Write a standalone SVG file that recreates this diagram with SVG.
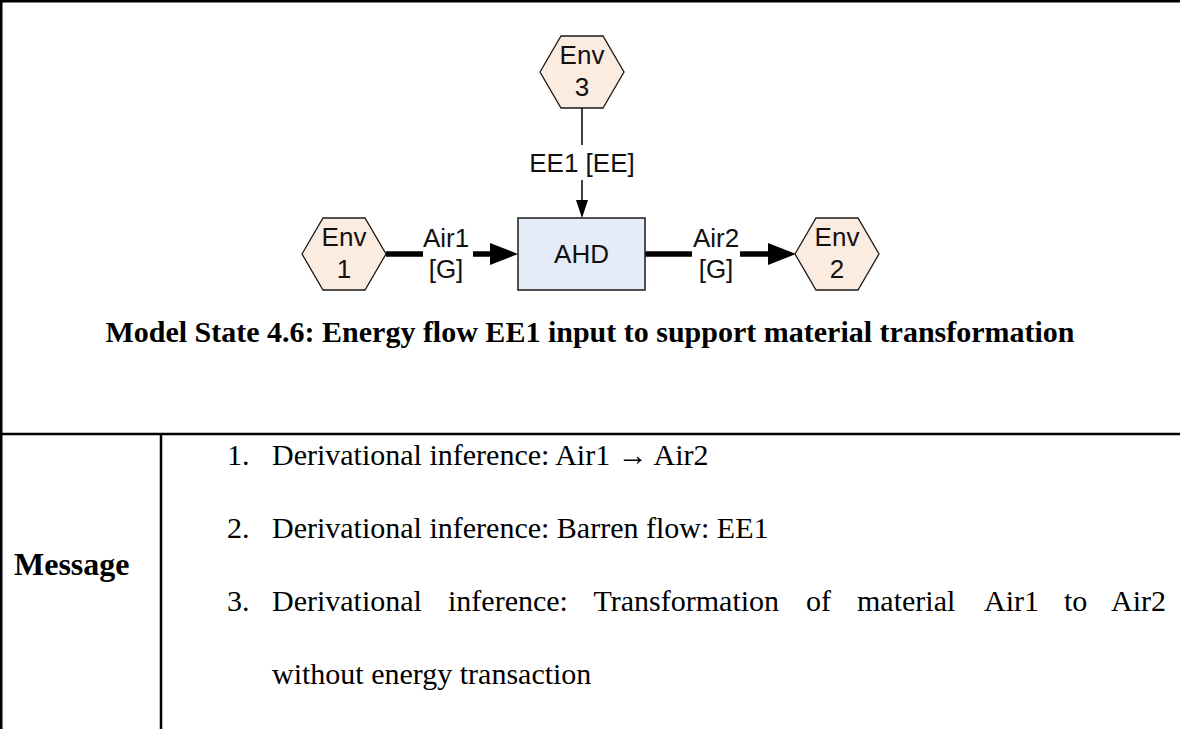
<svg xmlns="http://www.w3.org/2000/svg" width="1180" height="729" viewBox="0 0 1180 729">
<defs>
<style>
.env{fill:#fcebdf;stroke:#1a1a1a;stroke-width:1.3}
.fn{fill:#e6ecf7;stroke:#1a1a1a;stroke-width:1.5}
.lbl{font-family:"Liberation Sans",Arial,sans-serif;font-size:26px;fill:#111;text-anchor:middle}
.thick{stroke:#000;stroke-width:5.5;fill:none}
.thin{stroke:#000;stroke-width:1.5;fill:none}
.cap{font-family:"Liberation Serif","Times New Roman",serif;font-weight:bold;font-size:30px;fill:#000;text-anchor:middle}
.tb{font-family:"Liberation Serif","Times New Roman",serif;font-size:30px;fill:#000}
.tbb{font-family:"Liberation Serif","Times New Roman",serif;font-size:32px;font-weight:bold;fill:#000}
.rule{stroke:#000;stroke-width:2.5}
</style>
</defs>
<rect width="1180" height="729" fill="#fff"/>
<g id="table">
<line class="rule" x1="0" y1="1.25" x2="1180" y2="1.25"/>
<line class="rule" x1="1.25" y1="0" x2="1.25" y2="729"/>
<line class="rule" x1="0" y1="434" x2="1180" y2="434"/>
<line class="rule" x1="161" y1="434" x2="161" y2="729"/>
</g>
<g id="connectors">
<line class="thick" x1="386" y1="254" x2="423" y2="254"/>
<line class="thick" x1="473" y1="254" x2="492" y2="254"/>
<polygon points="490,243 518,254 490,265" fill="#000"/>
<text class="lbl" x="446" y="247">Air1</text>
<text class="lbl" x="446" y="278">[G]</text>
<line class="thick" x1="645" y1="254" x2="692" y2="254"/>
<line class="thick" x1="740" y1="254" x2="770" y2="254"/>
<polygon points="768,243 796,254 768,265" fill="#000"/>
<text class="lbl" x="716" y="247">Air2</text>
<text class="lbl" x="716" y="278">[G]</text>
<line class="thin" x1="582" y1="108" x2="582" y2="145"/>
<line class="thin" x1="582" y1="180" x2="582" y2="203"/>
<polygon points="576,200 582,218 588,200" fill="#000"/>
<text class="lbl" x="582" y="172">EE1 [EE]</text>
</g>
<g id="env3">
<polygon class="env" points="540,72 561,36 603,36 624,72 603,108 561,108"/>
<text class="lbl" x="582" y="64">Env</text>
<text class="lbl" x="582" y="96">3</text>
</g>
<g id="env1">
<polygon class="env" points="302,254 323,218 365,218 386,254 365,290 323,290"/>
<text class="lbl" x="344" y="246">Env</text>
<text class="lbl" x="344" y="278">1</text>
</g>
<g id="env2">
<polygon class="env" points="795,254 816,218 858,218 879,254 858,290 816,290"/>
<text class="lbl" x="837" y="246">Env</text>
<text class="lbl" x="837" y="278">2</text>
</g>
<g id="ahd">
<rect class="fn" x="518" y="218" width="127" height="72"/>
<text class="lbl" x="581.5" y="263">AHD</text>
</g>
<text class="cap" x="590" y="342">Model State 4.6: Energy flow EE1 input to support material transformation</text>
<text class="tbb" x="14" y="575">Message</text>
<text class="tb" x="227" y="465">1.</text>
<text class="tb" x="272" y="465">Derivational inference: Air1 → Air2</text>
<text class="tb" x="227" y="538">2.</text>
<text class="tb" x="272" y="538">Derivational inference: Barren flow: EE1</text>
<text class="tb" x="227" y="611">3.</text>
<text class="tb" y="611"><tspan x="272">Derivational</tspan><tspan x="448">inference:</tspan><tspan x="593.5">Transformation</tspan><tspan x="806">of</tspan><tspan x="857">material</tspan><tspan x="984">Air1</tspan><tspan x="1064">to</tspan><tspan x="1111">Air2</tspan></text>
<text class="tb" x="272" y="684">without energy transaction</text>
</svg>
